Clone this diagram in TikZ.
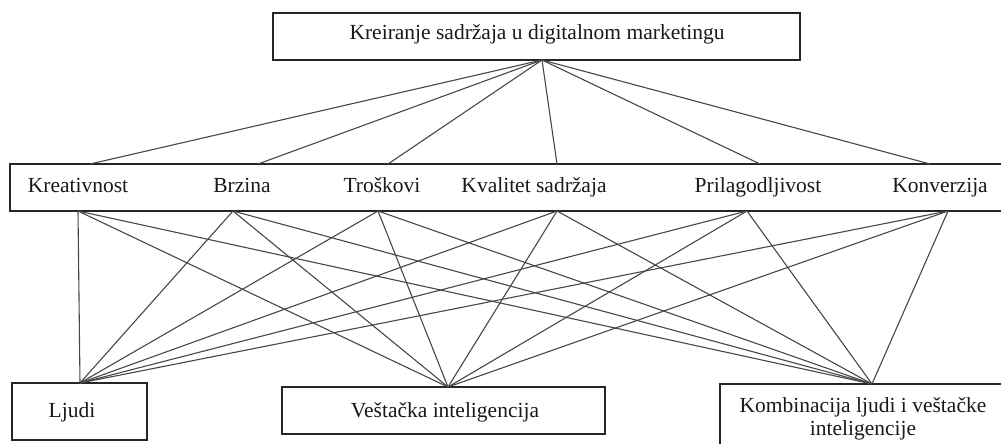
\documentclass[tikz,border=0pt]{standalone}
\usepackage{fontspec}
\setmainfont{Liberation Serif}
\begin{document}
\begin{tikzpicture}[x=1pt,y=-1pt,
  box/.style={draw=black!85,line width=1.3pt,inner sep=0pt},
  lbl/.style={font=\fontsize{21.5}{23.5}\selectfont,text=black!90,inner sep=0pt,anchor=base},
  conn/.style={draw=black!72,line width=1.1pt}]
\useasboundingbox (0,0) rectangle (1001,444);
% boxes
\node[box,minimum width=527pt,minimum height=47pt] (top) at (536.5,36.5) {};
\node[box,minimum width=992pt,minimum height=47pt] (mid) at (506,187.5) {};
\node[box,minimum width=135pt,minimum height=57pt] (ljb) at (79.5,411.5) {};
\node[box,minimum width=323pt,minimum height=47pt] (vib) at (443.5,410.5) {};
\node[box,minimum width=284pt,minimum height=64pt] (kob) at (862,416) {};
% texts
\node[lbl] (toptxt) at (537,40) {Kreiranje sadržaja u digitalnom marketingu};
\node[lbl] (c1) at (78,192) {Kreativnost};
\node[lbl] (c2) at (242,192) {Brzina};
\node[lbl] (c3) at (382,192) {Troškovi};
\node[lbl] (c4) at (534,192) {Kvalitet sadržaja};
\node[lbl] (c5) at (758,192) {Prilagodljivost};
\node[lbl] (c6) at (940,192) {Konverzija};
\node[lbl] (ljt) at (72,417) {Ljudi};
\node[lbl] (vit) at (445,417) {Veštačka inteligencija};
\node[lbl] (kot1) at (863,412) {Kombinacija ljudi i veštačke};
\node[lbl] (kot2) at (863,435) {inteligencije};
% connection points
\coordinate (apex) at (542,60);
\coordinate (t1) at (90,164);
\coordinate (t2) at (258,164);
\coordinate (t3) at (388,164);
\coordinate (t4) at (557,164);
\coordinate (t5) at (760,164);
\coordinate (t6) at (930,164);
\coordinate (b1) at (78,211);
\coordinate (b2) at (233,211);
\coordinate (b3) at (378,211);
\coordinate (b4) at (557,211);
\coordinate (b5) at (747,211);
\coordinate (b6) at (948,211);
\coordinate (L) at (80,383);
\coordinate (V) at (448,387);
\coordinate (K) at (872,384);
% connectors
\foreach \t in {t1,t2,t3,t4,t5,t6} \draw[conn] (apex) -- (\t);
\foreach \b in {b1,b2,b3,b4,b5,b6}
  \foreach \e in {L,V,K} \draw[conn] (\b) -- (\e);
\end{tikzpicture}
\end{document}
